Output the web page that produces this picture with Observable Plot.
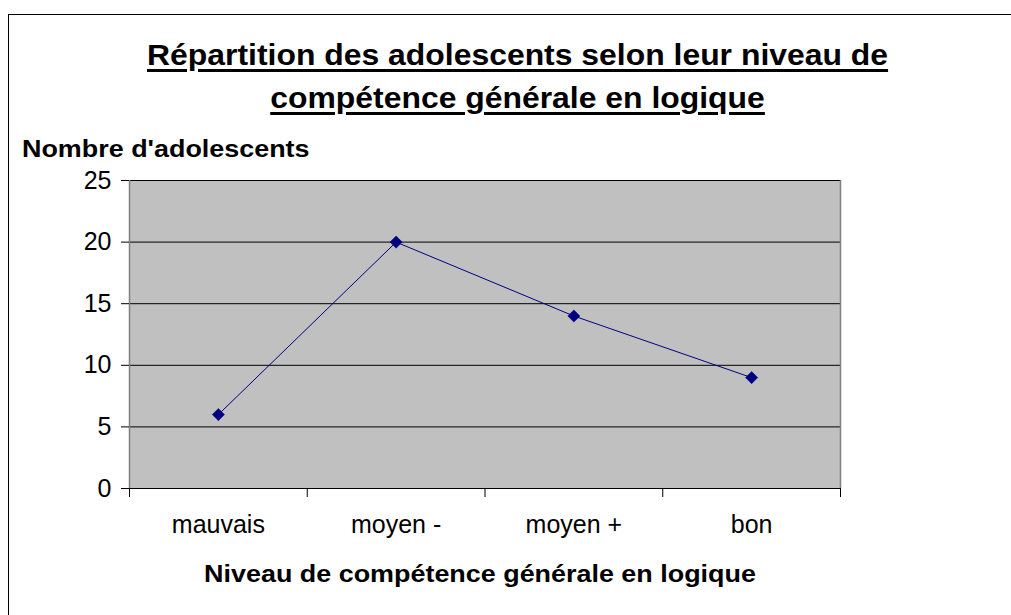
<!DOCTYPE html>
<html>
<head>
<meta charset="utf-8">
<script src="https://cdn.jsdelivr.net/npm/d3@7"></script>
<script src="https://cdn.jsdelivr.net/npm/@observablehq/plot@0.6"></script>
<style>
  html, body { margin: 0; padding: 0; background: #fff; }
  #wrap { position: relative; width: 1011px; height: 615px; overflow: hidden; font-family: "Liberation Sans", Arial, sans-serif; }
  #border { position: absolute; left: 8px; top: 14px; width: 1100px; height: 700px; border: 1px solid #000; }
  .t { position: absolute; white-space: nowrap; color: #000; }
  #title { left: 0; width: 1035px; top: 34px; text-align: center; font-weight: bold; font-size: 29px; line-height: 43px; text-decoration: underline; text-decoration-thickness: 3px; text-underline-offset: 4px; transform: scaleX(1.1); transform-origin: 517px 0; }
  #ytitle { left: 22px; top: 136px; font-weight: bold; font-size: 23px; transform: scaleX(1.17); transform-origin: 0 0; }
  #xtitle { left: 0; width: 960px; top: 561px; text-align: center; font-weight: bold; font-size: 23px; transform: scaleX(1.17); transform-origin: 480px 0; }
  #chart { position: absolute; left: 0; top: 0; }
</style>
</head>
<body>
<div id="wrap">
  <div id="border"></div>
  <div id="chart"></div>
  <div class="t" id="title">Répartition des adolescents selon leur niveau de<br>compétence générale en logique</div>
  <div class="t" id="ytitle">Nombre d'adolescents</div>
  <div class="t" id="xtitle">Niveau de compétence générale en logique</div>
</div>
<script>
const categories = ["mauvais", "moyen -", "moyen +", "bon"];
const values = [6, 20, 14, 9];
const yTicks = [0, 5, 10, 15, 20, 25];
const gridValues = [5, 10, 15, 20, 25];

const data = categories.map((c, i) => ({pos: i + 0.5, cat: c, value: values[i]}));
const labelPositions = categories.map((c, i) => i + 0.5);
const boundaries = d3.range(categories.length + 1);

const chart = Plot.plot({
  width: 1011,
  height: 615,
  marginLeft: 129,
  marginRight: 171,
  marginTop: 180,
  marginBottom: 127,
  style: {fontFamily: "Liberation Sans, Arial, sans-serif", background: "transparent", overflow: "visible", color: "#000"},
  x: {type: "linear", domain: [0, categories.length], axis: null},
  y: {domain: [0, 25], axis: null},
  marks: [
    Plot.frame({fill: "#c0c0c0", stroke: "none"}),
    Plot.ruleY(gridValues, {stroke: "#000", strokeWidth: 1}),
    Plot.ruleX([0, categories.length], {stroke: "#808080", strokeWidth: 1.5}),
    Plot.ruleY([0], {stroke: "#000", strokeWidth: 1.2}),
    Plot.axisY({ticks: yTicks, tickSize: 8, tickPadding: 10, fontSize: 25, label: null, stroke: "#000", strokeOpacity: 1}),
    Plot.axisX({ticks: boundaries, tickSize: 9, tickFormat: () => "", label: null, stroke: "#000", strokeOpacity: 1}),
    Plot.axisX({ticks: labelPositions, tickSize: 0, tickPadding: 27, fontSize: 25, label: null, tickFormat: (d) => categories[Math.round(d - 0.5)]}),
    Plot.line(data, {x: "pos", y: "value", stroke: "#000080", strokeWidth: 1}),
    Plot.dot(data, {x: "pos", y: "value", symbol: "diamond2", r: 5.5, fill: "#000080", stroke: "#000080", strokeWidth: 0.5})
  ]
});
document.getElementById("chart").appendChild(chart);
</script>
</body>
</html>
